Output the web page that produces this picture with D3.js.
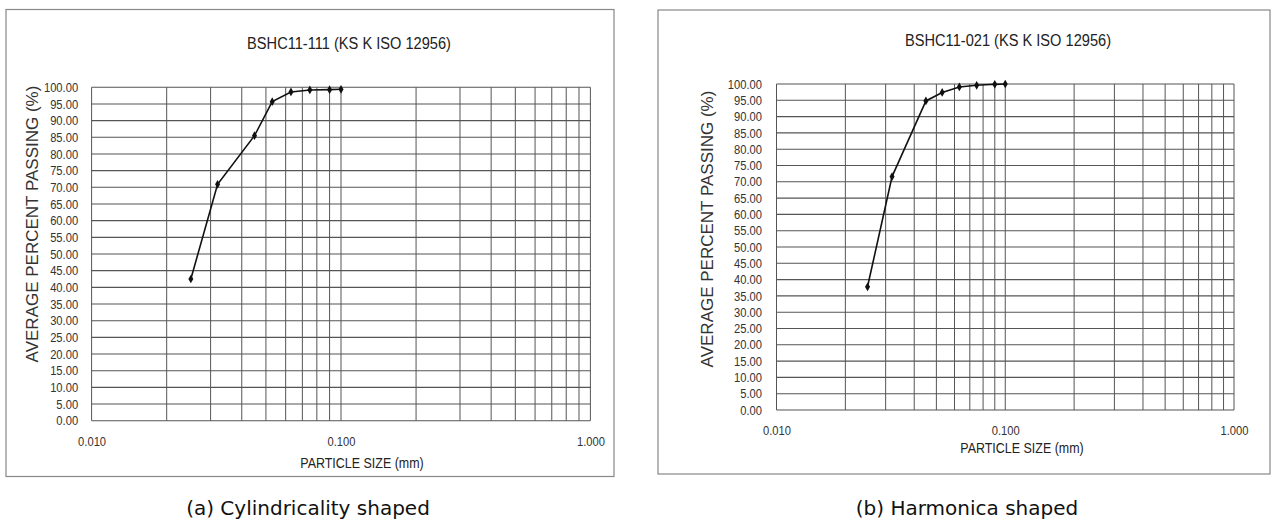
<!DOCTYPE html>
<html>
<head>
<meta charset="utf-8">
<script src="https://cdn.jsdelivr.net/npm/d3@7"></script>
<style>
  body { margin: 0; background: #fff; }
  svg { display: block; }
  text { font-family: "Liberation Sans", Arial, sans-serif; }
</style>
</head>
<body>
<div id="chart"></div>
<script>
// sieve sizes (mm), same for both samples
const particleSizes = [0.025, 0.032, 0.045, 0.053, 0.063, 0.075, 0.090, 0.100];
// average percent passing
const passingA = [42.5, 70.9, 85.5, 95.7, 98.6, 99.2, 99.3, 99.4];
const passingB = [37.8, 71.6, 94.8, 97.4, 99.1, 99.6, 99.9, 100.0];
const yTicks = d3.range(0, 101, 5);
const xTicks = [0.01, 0.1, 1];
const titles = ["BSHC11-111 (KS K ISO 12956)", "BSHC11-021 (KS K ISO 12956)"];
const captions = ["(a) Cylindricality shaped", "(b) Harmonica shaped"];

const W = 1277, H = 522;
const NARROW = 0.86; // the scan uses a condensed face, squeeze the regular one
const svg = d3.select("#chart").append("svg").attr("width", W).attr("height", H);

function narrowText(parent, x, y, str, size, fill) {
    return parent.append("g")
        .attr("transform", "translate(" + x + "," + y + ")")
        .append("text")
        .attr("transform", "scale(" + NARROW + ",1)")
        .attr("text-anchor", "middle")
        .attr("dy", "0.35em")
        .style("font-size", size + "px")
        .attr("fill", fill)
        .text(str);
}

function drawChart(cfg, values, title, caption) {
    const g = svg.append("g");

    // outer frame
    g.append("rect")
        .attr("x", cfg.frame[0]).attr("y", cfg.frame[1])
        .attr("width", cfg.frame[2]).attr("height", cfg.frame[3])
        .attr("fill", "#fff").attr("stroke", "#888").attr("stroke-width", 1.2);

    const x = d3.scaleLog().domain([0.01, 1]).range([cfg.left, cfg.right]);
    const y = d3.scaleLinear().domain([0, 100]).range([cfg.bottom, cfg.top]);

    // log grid: 1..9 in every decade
    const xGrid = [];
    [0.01, 0.1].forEach(d => { for (let k = 1; k <= 9; k++) xGrid.push(d * k); });
    xGrid.push(1);

    g.append("g").selectAll("line").data(xGrid).enter().append("line")
        .attr("x1", d => x(d)).attr("x2", d => x(d))
        .attr("y1", cfg.top).attr("y2", cfg.bottom)
        .attr("stroke", "#555").attr("stroke-width", 1);

    g.append("g").selectAll("line").data(yTicks).enter().append("line")
        .attr("x1", cfg.left).attr("x2", cfg.right)
        .attr("y1", d => y(d)).attr("y2", d => y(d))
        .attr("stroke", "#555").attr("stroke-width", 1.1);

    // y tick labels
    const yAxis = g.append("g")
        .attr("transform", "translate(" + (cfg.left - cfg.yLabelGap) + ",0)")
        .call(d3.axisLeft(y).tickValues(yTicks).tickFormat(d3.format(".2f")).tickSize(0).tickPadding(0));
    yAxis.select(".domain").remove();
    yAxis.selectAll("text")
        .attr("transform", "scale(" + NARROW + ",1)")
        .style("font-size", "13px").attr("fill", "#333");

    // x tick labels
    const xAxis = g.append("g")
        .attr("transform", "translate(0," + (cfg.bottom + cfg.xLabelGap) + ")")
        .call(d3.axisBottom(x).tickValues(xTicks).tickFormat(d3.format(".3f")).tickSize(0).tickPadding(0));
    xAxis.select(".domain").remove();
    xAxis.selectAll("text")
        .attr("dy", "0.35em")
        .attr("transform", "scale(" + NARROW + ",1)")
        .style("font-size", "13px").attr("fill", "#333");

    // title
    narrowText(g, cfg.titleX, cfg.titleY, title, 17, "#222");

    // x axis title
    narrowText(g, cfg.xTitleX, cfg.xTitleY, "PARTICLE SIZE (mm)", 14.5, "#222");

    // y axis title
    g.append("text")
        .attr("transform", "translate(" + cfg.yTitleX + "," + cfg.yTitleY + ") rotate(-90)")
        .attr("text-anchor", "middle").attr("dy", "0.35em")
        .style("font-size", "17px").attr("fill", "#333")
        .text("AVERAGE PERCENT PASSING (%)");

    // curve
    const pts = particleSizes.map((s, i) => [s, values[i]]);
    g.append("path")
        .datum(pts)
        .attr("fill", "none").attr("stroke", "#111").attr("stroke-width", 1.6)
        .attr("d", d3.line().x(d => x(d[0])).y(d => y(d[1])));

    g.append("g").selectAll("path").data(pts).enter().append("path")
        .attr("transform", d => "translate(" + x(d[0]) + "," + y(d[1]) + ")")
        .attr("d", d3.symbol().type(d3.symbolDiamond).size(22))
        .attr("fill", "#111");

    // caption under the frame
    svg.append("text")
        .attr("x", cfg.captionX).attr("y", 515)
        .attr("text-anchor", "middle")
        .style("font-family", "'DejaVu Sans', sans-serif")
        .style("font-size", "20px").attr("fill", "#111")
        .text(caption);
}

drawChart({
    frame: [6, 9.5, 608, 467],
    left: 91.6, right: 590.4, top: 87.3, bottom: 420.7,
    yLabelGap: 13.5, xLabelGap: 21,
    titleX: 349, titleY: 43,
    xTitleX: 362, xTitleY: 463,
    yTitleX: 32, yTitleY: 224,
    captionX: 308
}, passingA, titles[0], captions[0]);

drawChart({
    frame: [658, 10, 612, 464],
    left: 776.5, right: 1234, top: 84, bottom: 410,
    yLabelGap: 14.5, xLabelGap: 20,
    titleX: 1008, titleY: 40,
    xTitleX: 1022, xTitleY: 448,
    yTitleX: 707, yTitleY: 229,
    captionX: 967
}, passingB, titles[1], captions[1]);
</script>
</body>
</html>
